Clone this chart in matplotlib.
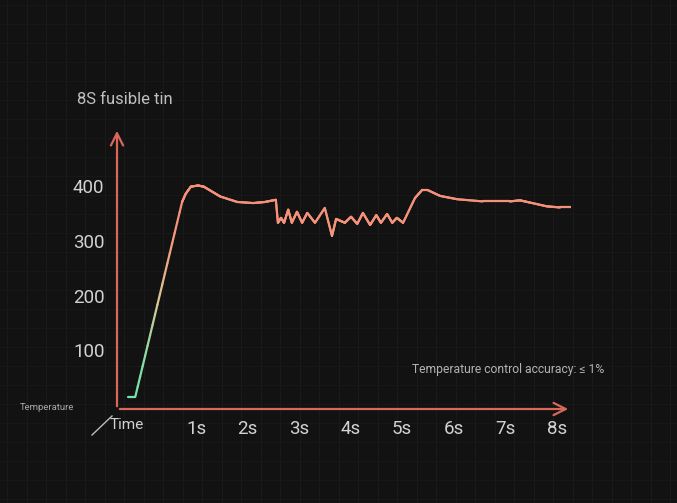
import numpy as np
import matplotlib
matplotlib.use('Agg')
import matplotlib.pyplot as plt
from matplotlib.collections import LineCollection
from matplotlib.colors import LinearSegmentedColormap

plt.rcParams['font.family'] = ['Roboto', 'DejaVu Sans']

# Temperature curve (time in s, temperature)
time_s = [-0.32, -0.18, 0.73, 0.80, 0.90, 1.04, 1.15, 1.31, 1.47, 1.80, 2.11, 2.34, 2.55,
          2.59, 2.65, 2.71, 2.79, 2.86, 2.96, 3.06, 3.16, 3.31, 3.50, 3.64,
          3.72, 3.89, 4.01, 4.13, 4.24, 4.38, 4.50, 4.59, 4.71, 4.81, 4.90, 5.02,
          5.25, 5.39, 5.49, 5.74, 6.07, 6.57, 7.09, 7.29, 7.48, 7.81, 8.07, 8.28]
temp = [15, 15, 371, 386, 399, 401, 399, 390, 381, 371, 369, 371, 375,
        333, 342, 333, 357, 333, 353, 333, 351, 333, 360, 309,
        340, 333, 344, 331, 351, 329, 347, 333, 349, 333, 342, 333,
        378, 393, 393, 382, 376, 372, 372, 374, 370, 363, 361, 361]

y_ticks = [100, 200, 300, 400]
x_ticks = [1, 2, 3, 4, 5, 6, 7, 8]
x_labels = ['1s', '2s', '3s', '4s', '5s', '6s', '7s', '8s']

BG = '#121212'
AXIS = '#d8685c'
TEXT = '#d2d2d2'

fig = plt.figure(figsize=(6.77, 5.03), dpi=100)
fig.patch.set_facecolor(BG)

# faint background grid
bg = fig.add_axes([0, 0, 1, 1])
bg.set_xlim(0, 677)
bg.set_ylim(503, 0)
bg.set_facecolor(BG)
for gx in np.arange(7, 677, 19.5):
    bg.axvline(gx, color='#1a1a1a', lw=0.8, zorder=0)
for gy in np.arange(5, 503, 19):
    bg.axhline(gy, color='#181818', lw=0.8, zorder=0)
bg.axis('off')

ax = fig.add_axes([117 / 677, (503 - 409) / 503, (571 - 117) / 677, (409 - 128) / 503])
ax.set_facecolor('none')
ax.set_xlim(-0.534, 8.28)
ax.set_ylim(-6.9, 506)
for s in ax.spines.values():
    s.set_visible(False)

# gradient coloured curve
cmap = LinearSegmentedColormap.from_list(
    'heat', [(0.0, '#6fe2ad'), (0.25, '#8ddca6'), (0.5, '#d9c896'),
             (0.75, '#f2a083'), (0.9, '#f4917a'), (1.0, '#f4917a')])
pts_x, pts_y = [], []
for i in range(len(time_s) - 1):
    xs = np.linspace(time_s[i], time_s[i + 1], 20)
    ys = np.linspace(temp[i], temp[i + 1], 20)
    pts_x.extend(xs[:-1])
    pts_y.extend(ys[:-1])
pts_x.append(time_s[-1])
pts_y.append(temp[-1])
pts = np.column_stack([pts_x, pts_y])
segs = np.stack([pts[:-1], pts[1:]], axis=1)
mid = (pts[:-1, 1] + pts[1:, 1]) / 2
lc = LineCollection(segs, colors=cmap(np.clip(mid / 380, 0, 1)), linewidths=1.6,
                    capstyle='round', joinstyle='round')
ax.add_collection(lc)

# axes with arrows
ax.annotate('', xy=(1.0, 0), xytext=(0, 0), xycoords='axes fraction',
            arrowprops=dict(arrowstyle='->', color=AXIS, lw=1.6, mutation_scale=22))
ax.annotate('', xy=(0, 1.0), xytext=(0, 0), xycoords='axes fraction',
            arrowprops=dict(arrowstyle='->', color=AXIS, lw=1.6, mutation_scale=22))

ax.set_yticks(y_ticks)
ax.set_yticklabels([str(v) for v in y_ticks])
ax.set_xticks(x_ticks)
ax.set_xticklabels(x_labels)
ax.tick_params(axis='both', length=0, colors=TEXT, labelsize=13.5)
ax.tick_params(axis='y', pad=9)
ax.tick_params(axis='x', pad=8)

fig.text(77 / 677, 1 - 99 / 503, '8S fusible tin', color='#c0c0c0', fontsize=12, va='center', ha='left')
fig.text(20 / 677, 1 - 407 / 503, 'Temperature', color='#a8a8a8', fontsize=6.8, va='center', ha='left')
fig.text(110 / 677, 1 - 425 / 503, 'Time', color=TEXT, fontsize=11, va='center', ha='left')
fig.text(412 / 677, 1 - 369 / 503, 'Temperature control accuracy: \u2264 1%', color='#b3b3b3',
         fontsize=8.7, va='center', ha='left')
bg.plot([92, 112], [435, 416], color='#bdbdbd', lw=1.0)

fig.savefig('out.png', dpi=100, facecolor=BG)
